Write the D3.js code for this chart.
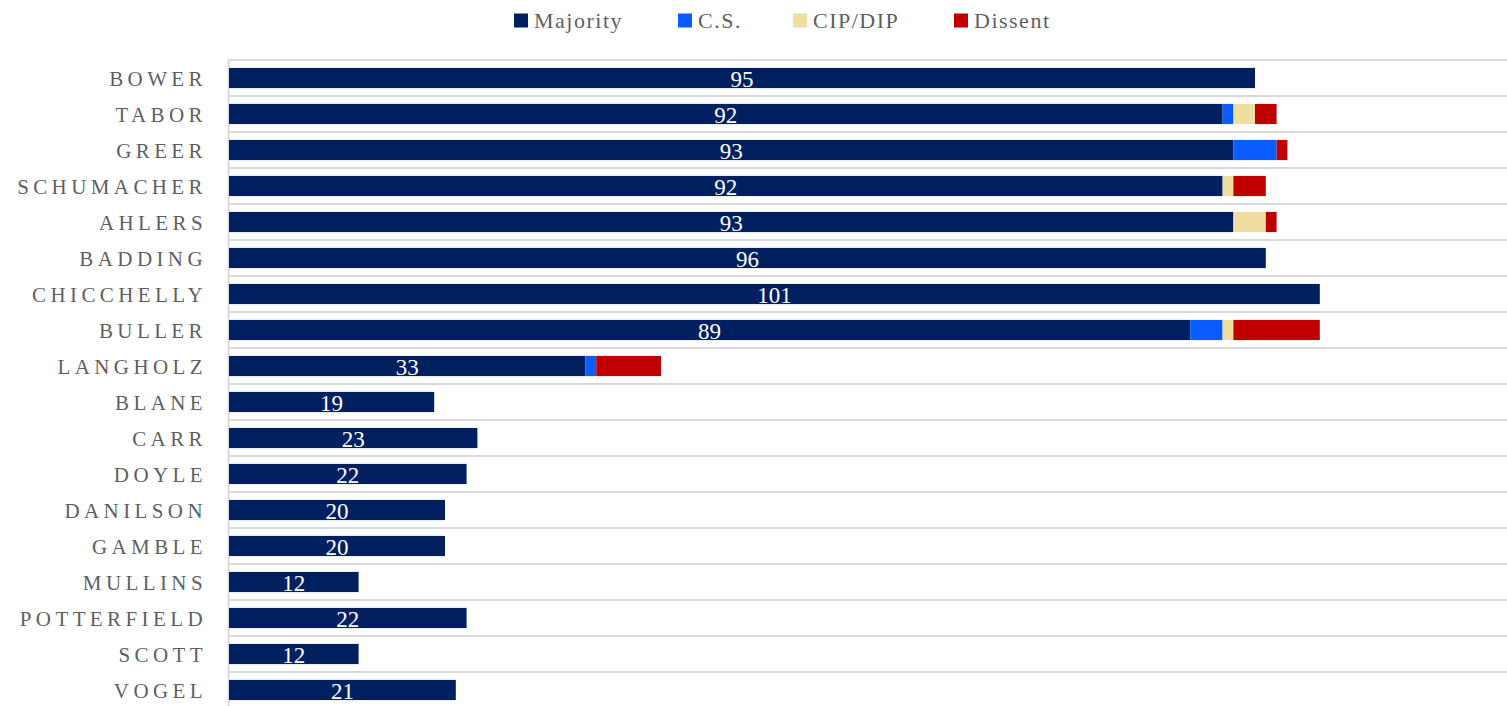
<!DOCTYPE html>
<html>
<head>
<meta charset="utf-8">
<script src="https://cdn.jsdelivr.net/npm/d3@7"></script>
<style>
  body { margin: 0; background: #fff; }
  svg { display: block; }
</style>
</head>
<body>
<div id="chart"></div>
<script>

var judges = ["BOWER", "TABOR", "GREER", "SCHUMACHER", "AHLERS", "BADDING", "CHICCHELLY", "BULLER",
  "LANGHOLZ", "BLANE", "CARR", "DOYLE", "DANILSON", "GAMBLE", "MULLINS", "POTTERFIELD", "SCOTT", "VOGEL"];
var majority = [95, 92, 93, 92, 93, 96, 101, 89, 33, 19, 23, 22, 20, 20, 12, 22, 12, 21];
var cs       = [0, 1, 4, 0, 0, 0, 0, 3, 1, 0, 0, 0, 0, 0, 0, 0, 0, 0];
var cipDip   = [0, 2, 0, 1, 3, 0, 0, 1, 0, 0, 0, 0, 0, 0, 0, 0, 0, 0];
var dissent  = [0, 2, 1, 3, 1, 0, 0, 8, 6, 0, 0, 0, 0, 0, 0, 0, 0, 0];

var seriesNames = ["Majority", "C.S.", "CIP/DIP", "Dissent"];
var seriesColors = ["#002060", "#0a5cff", "#eedfa0", "#c00000"];

var width = 1507, height = 706;
var margin = {top: 60, left: 229};
var font = "'Palatino Linotype', 'Book Antiqua', Palatino, 'Liberation Serif', serif";

var svg = d3.select("#chart").append("svg")
  .attr("width", width)
  .attr("height", height);

var table = judges.map(function(j, i) {
  return {judge: j, Majority: majority[i], "C.S.": cs[i], "CIP/DIP": cipDip[i], Dissent: dissent[i]};
});

var stack = d3.stack().keys(seriesNames);
var layers = stack(table);

var xScale = d3.scaleLinear()
  .domain([0, 120])
  .range([margin.left, margin.left + 1296]);

var yScale = d3.scaleBand()
  .domain(judges)
  .range([margin.top, margin.top + judges.length * 36])
  .paddingInner(0.44)
  .paddingOuter(0.22);

// horizontal gridlines between categories
var step = yScale.step();
var gridYs = d3.range(judges.length + 1).map(function(i) { return margin.top + i * step; });
svg.append("g").selectAll("line")
  .data(gridYs)
  .enter().append("line")
  .attr("x1", margin.left)
  .attr("x2", width)
  .attr("y1", d => d)
  .attr("y2", d => d)
  .attr("stroke", "#d9d9d9")
  .attr("stroke-width", 2);

// left axis line
svg.append("line")
  .attr("x1", margin.left - 0.5)
  .attr("x2", margin.left - 0.5)
  .attr("y1", margin.top)
  .attr("y2", height)
  .attr("stroke", "#d9d9d9")
  .attr("stroke-width", 2);

svg.append("g").selectAll("g")
  .data(layers)
  .enter().append("g")
  .attr("fill", (d, i) => seriesColors[i])
  .selectAll("rect")
  .data(d => d)
  .enter().append("rect")
  .attr("x", d => xScale(d[0]))
  .attr("y", d => yScale(d.data.judge))
  .attr("width", d => xScale(d[1]) - xScale(d[0]))
  .attr("height", yScale.bandwidth());

// data labels on majority
svg.append("g").selectAll("text")
  .data(table)
  .enter().append("text")
  .attr("x", d => xScale(d.Majority / 2))
  .attr("y", d => yScale(d.judge) + yScale.bandwidth() - 1)
  .attr("text-anchor", "middle")
  .attr("fill", "#ffffff")
  .style("font-family", font)
  .style("font-size", "23px")
  .text(d => d.Majority);

// category labels
svg.append("g").selectAll("text")
  .data(judges)
  .enter().append("text")
  .attr("x", 207)
  .attr("y", d => yScale(d) + yScale.bandwidth() / 2 + 7.5)
  .attr("text-anchor", "end")
  .attr("fill", "#5f5f5f")
  .style("font-family", font)
  .style("font-size", "21px")
  .style("letter-spacing", "4.4px")
  .text(d => d);

// legend
var legendX = [514, 678, 793, 954];
var legend = svg.append("g").selectAll("g")
  .data(seriesNames)
  .enter().append("g")
  .attr("transform", (d, i) => "translate(" + legendX[i] + ",13.5)");

legend.append("rect")
  .attr("width", 14)
  .attr("height", 14)
  .attr("fill", (d, i) => seriesColors[i]);

legend.append("text")
  .attr("x", 20)
  .attr("y", 14)
  .attr("fill", "#5f5f5f")
  .style("font-family", font)
  .style("font-size", "22px")
  .style("letter-spacing", "1.5px")
  .text(d => d);

</script>
</body>
</html>
